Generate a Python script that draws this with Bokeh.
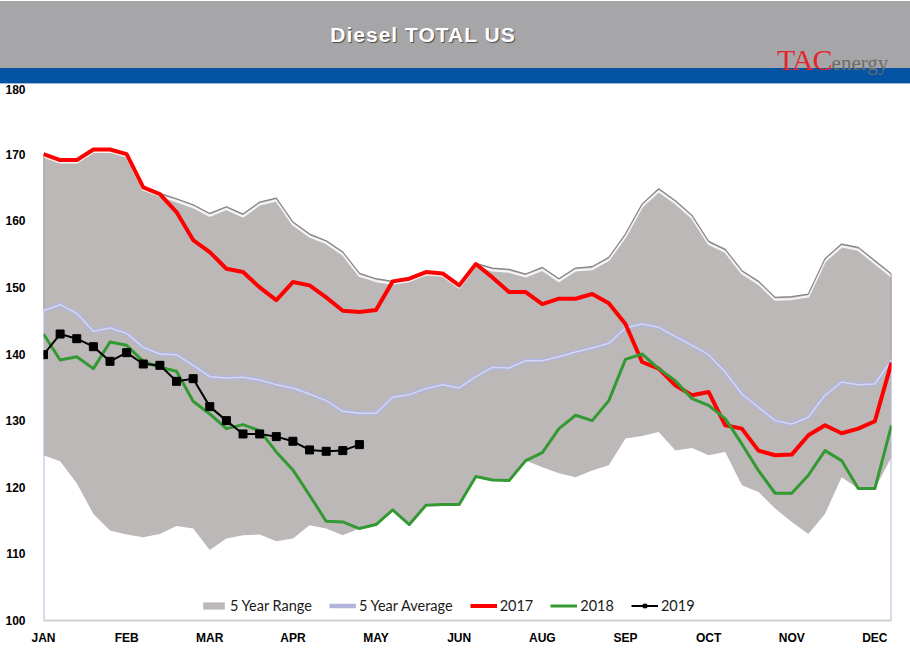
from bokeh.plotting import figure
from bokeh.layouts import column
from bokeh.models import FixedTicker, Legend, LegendItem, Range1d, ColumnDataSource, Div
from bokeh.embed import file_html
from bokeh.resources import INLINE

# ---------------- data ----------------
weeks = list(range(52))
month_ticks = [0, 5, 10, 15, 20, 25, 30, 35, 40, 45, 50]
month_labels = ["JAN", "FEB", "MAR", "APR", "MAY", "JUN", "AUG", "SEP", "OCT", "NOV", "DEC"]
y_ticks = [100, 110, 120, 130, 140, 150, 160, 170, 180]

range_high = [170.0, 169.1, 169.1, 170.7, 170.7, 170.0, 165.0, 164.1, 163.3, 162.4,
              161.1, 162.1, 161.0, 162.8, 163.4, 159.8, 158.0, 157.0, 155.3, 152.1,
              151.3, 150.9, 151.3, 152.3, 152.1, 150.3, 153.6, 152.9, 152.7, 152.0,
              153.0, 151.3, 152.9, 153.1, 154.5, 158.0, 162.5, 164.8, 163.0, 160.8,
              156.9, 155.7, 152.5, 150.9, 148.5, 148.6, 149.0, 154.3, 156.5, 156.0,
              154.0, 152.0]
range_low = [124.8, 123.9, 120.6, 116.0, 113.5, 112.9, 112.5, 113.0, 114.2, 113.8,
             110.6, 112.3, 112.8, 112.9, 111.9, 112.3, 114.3, 113.8, 112.8, 113.8,
             114.4, 116.6, 114.4, 117.3, 117.4, 117.4, 121.6, 121.1, 121.0, 124.0,
             123.0, 122.1, 121.5, 122.5, 123.3, 127.3, 127.7, 128.3, 125.5, 125.9,
             124.8, 125.3, 120.3, 119.3, 116.8, 114.8, 113.0, 116.0, 121.5, 119.8,
             119.8, 124.5]
avg5 = [146.5, 147.4, 146.1, 143.4, 143.9, 143.1, 141.0, 140.0, 139.9, 138.3,
        136.6, 136.4, 136.5, 136.1, 135.4, 134.9, 134.0, 133.0, 131.4, 131.1,
        131.1, 133.5, 133.9, 134.8, 135.4, 134.9, 136.6, 138.0, 137.9, 139.0,
        139.0, 139.6, 140.3, 140.9, 141.6, 143.9, 144.5, 144.0, 142.6, 141.3,
        139.9, 137.3, 134.0, 132.0, 130.0, 129.5, 130.5, 133.8, 135.8, 135.4,
        135.5, 139.1]
y2017 = [170.0, 169.1, 169.1, 170.7, 170.7, 170.0, 165.0, 164.0, 161.3, 157.1,
         155.3, 152.8, 152.3, 150.0, 148.1, 150.8, 150.3, 148.5, 146.5, 146.3,
         146.6, 150.9, 151.3, 152.3, 152.1, 150.3, 153.5, 151.5, 149.3, 149.3,
         147.5, 148.3, 148.3, 149.0, 147.6, 144.5, 138.8, 137.8, 135.3, 133.8,
         134.3, 129.3, 128.8, 125.5, 124.8, 124.9, 127.8, 129.3, 128.1, 128.8,
         129.9, 138.7]
y2018 = [143.0, 139.1, 139.6, 137.8, 141.8, 141.3, 138.9, 138.0, 137.4, 132.9,
         131.0, 128.8, 129.4, 128.5, 125.3, 122.6, 118.8, 114.9, 114.8, 113.8,
         114.4, 116.6, 114.4, 117.3, 117.4, 117.4, 121.6, 121.1, 121.0, 124.0,
         125.2, 128.8, 130.8, 130.0, 133.0, 139.2, 140.0, 137.8, 136.0, 133.3,
         132.3, 130.3, 126.5, 122.5, 119.1, 119.1, 121.8, 125.5, 124.0, 119.8,
         119.8, 129.3]
y2019 = [139.9, 143.0, 142.3, 141.1, 138.9, 140.2, 138.5, 138.3, 135.9, 136.3,
         132.1, 130.0, 128.0, 128.0, 127.6, 126.9, 125.6, 125.4, 125.5, 126.4]

title_text = "Diesel TOTAL US"

# ---------------- header band ----------------
W = 910
header_html = f"""
<div style="position:relative;width:{W}px;height:84px;background:#ffffff;overflow:hidden;margin:0;padding:0;">
  <div style="position:absolute;left:0;top:1px;width:{W}px;height:67px;background:#a6a6a9;"></div>
  <div style="position:absolute;left:0;top:68px;width:{W}px;height:15px;background:#0454a3;"></div>
  <div style="position:absolute;left:0;top:83px;width:{W}px;height:1px;background:#9db4d8;"></div>
  <div style="position:absolute;left:0;top:22px;width:846px;height:26px;line-height:26px;text-align:center;
              font-family:'Liberation Sans';font-weight:bold;font-size:21px;letter-spacing:1px;
              color:#ffffff;text-shadow:1px 1px 1px #4a4a4a;">{title_text}</div>
  <div style="position:absolute;left:777px;top:46px;height:28px;line-height:28px;white-space:nowrap;
              font-family:'Liberation Serif';">
    <span style="font-size:30px;color:#e3262b;letter-spacing:-1px;">TAC</span><span
          style="font-size:21px;color:#6b6b6b;">energy</span>
  </div>
</div>
"""
hdr = Div(text=header_html, width=W, height=84, styles={"margin": "0", "padding": "0"})

# ---------------- main chart ----------------
p = figure(width=W, height=575, x_range=Range1d(0, 51), y_range=Range1d(100, 180),
           output_backend="svg", toolbar_location=None,
           min_border_left=43, min_border_right=19, min_border_top=3, min_border_bottom=39,
           outline_line_color=None, background_fill_color="white", border_fill_color="white")
p.grid.visible = False

src = ColumnDataSource(dict(x=weeks, lo=range_low, hi=range_high, avg=avg5,
                            y17=y2017, y18=y2018,
                            hi_in=[v - 0.35 for v in range_high]))
src19 = ColumnDataSource(dict(x=weeks[:len(y2019)], y=y2019))

r_range = p.varea(x="x", y1="lo", y2="hi", source=src, fill_color="#bcb8b8")
p.line(x="x", y="hi_in", source=src, line_color="#f4f4f4", line_width=2.2, line_join="round")
p.line(x="x", y="hi", source=src, line_color="#858585", line_width=1.2, line_join="round")
# area edges at both ends
p.segment(x0=[weeks[0], weeks[-1]], y0=[y_ticks[0], y_ticks[0]],
          x1=[weeks[0], weeks[-1]], y1=[avg5[0], avg5[-1]],
          line_color="#b4b8dc", line_width=2)
p.segment(x0=[weeks[0], weeks[-1]], y0=[avg5[0], avg5[-1]],
          x1=[weeks[0], weeks[-1]], y1=[range_high[0], range_high[-1]],
          line_color="#858585", line_width=1.5)

r_avg = p.line(x="x", y="avg", source=src, line_color="#b1b5db", line_width=4.5, line_join="round")
p.line(x="x", y="avg", source=src, line_color="#d4d7ee", line_width=1.5, line_join="round")
r17 = p.line(x="x", y="y17", source=src, line_color="#ff0000", line_width=4, line_join="round")
r18 = p.line(x="x", y="y18", source=src, line_color="#339933", line_width=3, line_join="round")
r19 = p.line(x="x", y="y", source=src19, line_color="black", line_width=2)
r19m = p.scatter(x="x", y="y", source=src19, marker="square", size=8, fill_color="black", line_color="black")

# axes
p.yaxis.ticker = FixedTicker(ticks=y_ticks)
p.yaxis.axis_line_color = None
p.yaxis.major_tick_line_color = None
p.yaxis.minor_tick_line_color = None
p.yaxis.major_tick_out = 0
p.yaxis.minor_tick_out = 0
p.yaxis.major_label_standoff = 18
p.yaxis.major_label_text_font = "Liberation Sans"
p.yaxis.major_label_text_font_style = "bold"
p.yaxis.major_label_text_font_size = "12px"
p.yaxis.major_label_text_color = "black"

p.xaxis.ticker = FixedTicker(ticks=month_ticks)
p.xaxis.major_label_overrides = {t: lab for t, lab in zip(month_ticks, month_labels)}
p.xaxis.axis_line_color = "#d0d0d0"
p.xaxis.axis_line_width = 2
p.xaxis.major_tick_line_color = None
p.xaxis.minor_tick_line_color = None
p.xaxis.major_tick_out = 0
p.xaxis.minor_tick_out = 0
p.xaxis.major_label_standoff = 10
p.xaxis.major_label_text_font = "Liberation Sans"
p.xaxis.major_label_text_font_style = "bold"
p.xaxis.major_label_text_font_size = "12px"
p.xaxis.major_label_text_color = "black"

legend = Legend(items=[
    LegendItem(label="5 Year Range", renderers=[r_range]),
    LegendItem(label="5 Year Average", renderers=[r_avg]),
    LegendItem(label="2017", renderers=[r17]),
    LegendItem(label="2018", renderers=[r18]),
    LegendItem(label="2019", renderers=[r19, r19m]),
], orientation="horizontal", location=(157, 6), padding=0, margin=0, spacing=17,
    glyph_width=27, glyph_height=9, label_standoff=3, label_height=14,
    label_text_font="Lato", label_text_font_size="14.5px", label_text_color="#1a1a1a",
    border_line_color=None, background_fill_alpha=0)
p.add_layout(legend)

layout = column(hdr, p, spacing=0)
open("out.html", "w").write(file_html(layout, INLINE))
